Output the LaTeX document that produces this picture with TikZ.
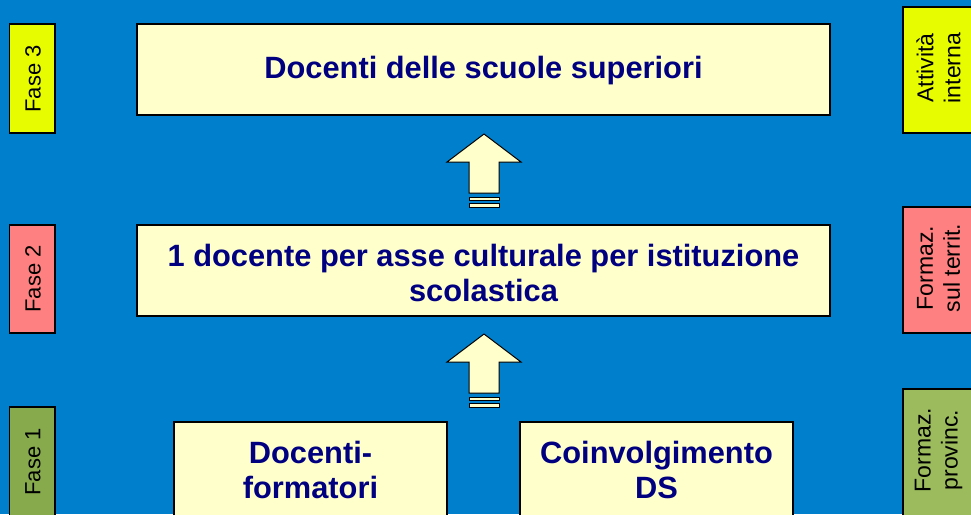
\documentclass[tikz,border=0pt]{standalone}
\usepackage{fontspec}
\setmainfont{Liberation Sans}
\definecolor{bgblue}{RGB}{0,128,204}
\definecolor{boxfill}{RGB}{255,255,204}
\definecolor{navy}{RGB}{0,0,128}
\definecolor{fyellow}{RGB}{232,252,0}
\definecolor{fpink}{RGB}{255,128,128}
\definecolor{fgreenL}{RGB}{135,170,76}
\definecolor{fgreenR}{RGB}{155,187,92}
\begin{document}
\begin{tikzpicture}[x=1pt,y=-1pt,
  mainbox/.style={draw=black,line width=1.5pt,fill=boxfill},
  maintext/.style={text=navy,font=\fontsize{30.8}{35}\selectfont\bfseries,align=center,inner sep=0pt},
  tab/.style={draw=black,line width=1.5pt},
  tabtext/.style={rotate=90,text=black,align=center,inner sep=0pt,font=\fontsize{22}{27}\selectfont},
  rtabtext/.style={tabtext,font=\fontsize{23}{27}\selectfont},
  blockarrow/.style={draw=black,line width=1pt,fill=boxfill,line join=miter}]
\useasboundingbox (0,0) rectangle (971,514);
\clip (0,0) rectangle (971,514);
\fill[bgblue] (0,0) rectangle (971,514);
% left tabs
\draw[tab,fill=fyellow] (9.5,24) rectangle (55,133);
\node[tabtext] (f3) at (33,79) {Fase 3};
\draw[tab,fill=fpink] (9.5,225) rectangle (55,333);
\node[tabtext] (f2) at (33,279) {Fase 2};
\draw[tab,fill=fgreenL] (9.5,407) rectangle (55,530);
\node[tabtext] (f1) at (33,462) {Fase 1};
% right tabs
\draw[tab,fill=fyellow] (903,7) rectangle (990,133);
\node[rtabtext] (r3) at (938.5,68) {Attività\\interna};
\draw[tab,fill=fpink] (903,207) rectangle (990,333);
\node[rtabtext] (r2) at (938.5,268) {Formaz.\\sul territ.};
\draw[tab,fill=fgreenR] (903,389) rectangle (990,530);
\node[rtabtext] (r1) at (938.5,450) {Formaz.\\provinc.};
% main boxes
\draw[mainbox] (137,24) rectangle (830,115);
\node[maintext] (b3) at (483.5,71) {Docenti delle scuole superiori};
\draw[mainbox] (137,225) rectangle (830,316);
\node[maintext] (b2) at (483.5,273) {1 docente per asse culturale per istituzione\\scolastica};
\draw[mainbox] (174,422) rectangle (447,530);
\node[maintext] (b1a) at (310.5,470) {Docenti-\\formatori};
\draw[mainbox] (520,422) rectangle (793,530);
\node[maintext] (b1b) at (656.5,470) {Coinvolgimento\\DS};
% block arrows
\foreach \dy in {0,200}{
  \begin{scope}[yshift=-\dy]
  \draw[blockarrow] (484,134) -- (521,162) -- (499,162) -- (499,193) -- (469,193) -- (469,162) -- (447,162) -- cycle;
  \draw[blockarrow] (469,197) rectangle (499,200.5);
  \draw[blockarrow] (469,203.5) rectangle (499,207);
  \end{scope}
}
\end{tikzpicture}
\end{document}
